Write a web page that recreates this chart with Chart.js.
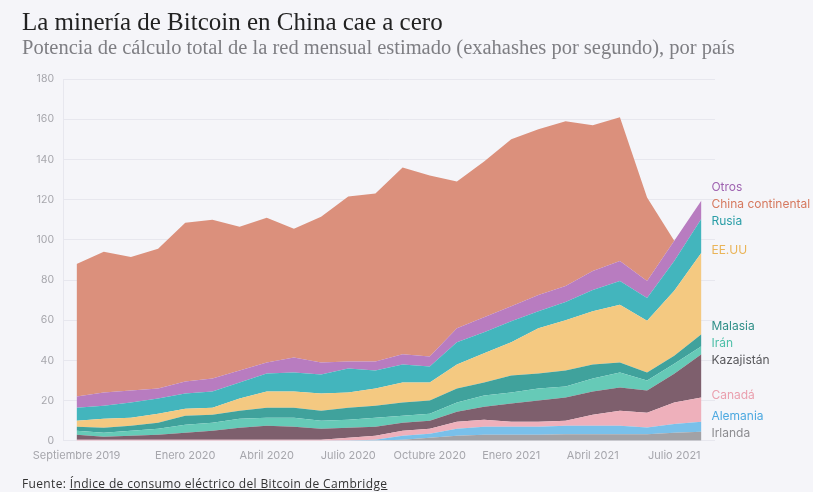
<!DOCTYPE html>
<html lang="es">
<head>
<meta charset="utf-8">
<script src="https://cdn.jsdelivr.net/npm/chart.js@4"></script>
<style>
  body { margin: 0; background: #f5f5f9; }
  #wrap { position: relative; width: 813px; height: 492px; overflow: hidden; }
  #hashrate_chart { position: absolute; left: 0; top: 0; }
  .title { position: absolute; left: 22px; top: 9px; margin: 0; font: 400 25px 'Liberation Serif', serif; color: #222; line-height: 1; }
  .subtitle { position: absolute; left: 22px; top: 37px; margin: 0; font: 400 20.5px 'Liberation Serif', serif; color: #7e7e83; line-height: 1; }
  .source { position: absolute; left: 22px; top: 478px; margin: 0; font: 400 12px 'Open Sans', sans-serif; letter-spacing: 0.35px; color: #333; line-height: 1; }
  .source span { text-decoration: underline; }
</style>
</head>
<body>
<div id="wrap">
  <canvas id="hashrate_chart" width="813" height="492"></canvas>
  <h1 class="title">La minería de Bitcoin en China cae a cero</h1>
  <h2 class="subtitle">Potencia de cálculo total de la red mensual estimado (exahashes por segundo), por país</h2>
  <p class="source">Fuente: <span>Índice de consumo eléctrico del Bitcoin de Cambridge</span></p>
</div>
<script>
// MONTHS (Sep 2019 - Aug 2021)
const months = [
  '2019-09', '2019-10', '2019-11', '2019-12',
  '2020-01', '2020-02', '2020-03', '2020-04', '2020-05', '2020-06',
  '2020-07', '2020-08', '2020-09', '2020-10', '2020-11', '2020-12',
  '2021-01', '2021-02', '2021-03', '2021-04', '2021-05', '2021-06',
  '2021-07', '2021-08',
];

const tick_labels = [
  'Septiembre 2019', '', '', '',
  'Enero 2020', '', '', 'Abril 2020', '', '',
  'Julio 2020', '', '', 'Octubre 2020', '', '',
  'Enero 2021', '', '', 'Abril 2021', '', '',
  'Julio 2021', '',
];

// HASHRATE BY COUNTRY, EH/s
const irlanda = [0, 0, 0, 0, 0, 0, 0, 0, 0, 0, 0, 0.2, 0.5, 1.5, 2.5, 3, 3, 3, 3.3, 3.3, 3.3, 3.3, 4, 4.5];
const alemania = [0, 0, 0, 0, 0, 0, 0, 0, 0, 0, 0.2, 0.3, 2, 2, 3.5, 4, 4, 4, 4.2, 4.2, 4.2, 3.3, 4.4, 5];
const canada = [0.5, 0.5, 0.5, 0.5, 0.5, 0.5, 0.5, 0.5, 0.5, 0.5, 1.3, 2, 2.5, 2.5, 3.5, 3.5, 2.5, 2.5, 2.5, 5.5, 7.5, 7.4, 10.6, 12];
const kazajistan = [2.5, 1.5, 2, 2.5, 3.5, 4.5, 6, 7, 6.5, 5.5, 5, 4.5, 4, 4, 5, 6.5, 9, 10.5, 11.5, 11.5, 11.5, 11, 14.3, 21.5];
const iran = [2, 2, 2.5, 3, 4, 4, 4.5, 4, 4.5, 4, 4, 4.5, 3.5, 3.5, 4.5, 5.5, 5.5, 6, 5.5, 6.5, 7.5, 5, 5, 4];
const malasia = [2, 2.5, 2.5, 3, 4.5, 4, 4, 5, 5, 5, 6, 6, 6.5, 6.5, 7, 6.5, 8.5, 7.5, 8, 7, 5, 4, 4, 6];
const eeuu = [3, 4.5, 4, 4.5, 3.5, 3.5, 6, 8, 8, 8.5, 7.5, 8.5, 10, 9, 12, 14.5, 16.5, 22.5, 25, 26.5, 28.7, 25.7, 32.3, 40.5];
const rusia = [6.5, 6.5, 7.5, 7.5, 7.5, 8, 8, 9, 9.5, 9.5, 12, 9, 9, 8, 11, 10.5, 10.5, 8.5, 9, 10.5, 11.8, 11.3, 14.9, 17];
const otros = [5.5, 6.5, 6, 5, 6, 6.5, 6, 5.5, 7.5, 6, 3.5, 4.5, 5, 5, 7, 7.5, 7.5, 8, 8, 9.5, 10, 8.5, 10, 9];
const china = [66, 70, 66.5, 69.5, 79, 79, 71.5, 72, 64, 72.5, 82, 83.5, 93, 90, 73, 77.5, 83, 82.5, 82, 72.5, 71.5, 41.5, 0, 0];

// stacked bottom -> top
const layers = [
  { label: 'Irlanda', data: irlanda, fill: '#a2a2a6', text: '#8c8c90' },
  { label: 'Alemania', data: alemania, fill: '#79c0ea', text: '#4ea9e0' },
  { label: 'Canadá', data: canada, fill: '#eeb0bb', text: '#ea9fae' },
  { label: 'Kazajistán', data: kazajistan, fill: '#7e5f6d', text: '#58585c' },
  { label: 'Irán', data: iran, fill: '#66cab7', text: '#4dbfa8' },
  { label: 'Malasia', data: malasia, fill: '#40a29c', text: '#2f8f88' },
  { label: 'EE.UU', data: eeuu, fill: '#f4c981', text: '#eab458' },
  { label: 'Rusia', data: rusia, fill: '#43b5bd', text: '#2a9ea7' },
  { label: 'Otros', data: otros, fill: '#b87cc0', text: '#9e62b0' },
  { label: 'China continental', data: china, fill: '#db907c', text: '#d6795f' },
];

// labels at the right edge, top -> bottom
const label_order = ['Otros', 'China continental', 'Rusia', 'EE.UU', 'Malasia', 'Irán', 'Kazajistán', 'Canadá', 'Alemania', 'Irlanda'];

const ctx = document.getElementById('hashrate_chart').getContext('2d');

// END LABELS
const end_labels = {
  id: 'end_labels',
  afterDatasetsDraw(chart) {
    const last = months.length - 1;
    const items = label_order.map(name => {
      const i = layers.findIndex(l => l.label === name);
      const pt = chart.getDatasetMeta(i).data[last];
      return { name, color: layers[i].text, x: pt.x + 10, y: pt.y - 2 };
    });

    // push overlapping labels apart
    const gap = 17;
    for (let k = 0; k < 200; k++) {
      for (let j = 0; j < items.length - 1; j++) {
        const a = items[j], b = items[j + 1];
        if (b.y - a.y < gap) {
          const mid = (a.y + b.y) / 2;
          a.y = mid - gap / 2;
          b.y = mid + gap / 2;
        }
      }
    }

    const c = chart.ctx;
    c.save();
    c.font = '12px Inter';
    c.textBaseline = 'middle';
    c.textAlign = 'left';
    items.forEach(it => {
      c.fillStyle = it.color;
      c.fillText(it.name, it.x, it.y);
    });
    c.restore();
  },
};

new Chart(ctx, {
  type: 'line',
  data: {
    labels: months,
    datasets: layers.map((l, i) => ({
      label: l.label,
      data: l.data,
      backgroundColor: l.fill,
      borderWidth: 0,
      pointRadius: 0,
      tension: 0,
      fill: i === 0 ? 'origin' : '-1',
    })),
  },
  options: {
    responsive: false,
    animation: false,
    layout: { padding: { top: 79, right: 98, bottom: 30, left: 0 } },
    plugins: {
      legend: { display: false },
      tooltip: { enabled: false },
    },
    scales: {
      x: {
        offset: true,
        grid: { display: false },
        border: { display: false },
        ticks: {
          autoSkip: false,
          maxRotation: 0,
          padding: 0,
          color: '#a6a6ac',
          font: { family: 'Inter', size: 11 },
          callback: (v, i) => tick_labels[i],
        },
      },
      y: {
        stacked: true,
        min: 0,
        max: 180,
        grid: { color: '#e7e7ee', drawTicks: false },
        border: { color: '#e7e7ee' },
        ticks: {
          stepSize: 20,
          padding: 9,
          color: '#a6a6ac',
          font: { family: 'Inter', size: 10.5 },
        },
        afterFit: s => { s.width = 63; },
      },
    },
  },
  plugins: [end_labels],
});
</script>
</body>
</html>
